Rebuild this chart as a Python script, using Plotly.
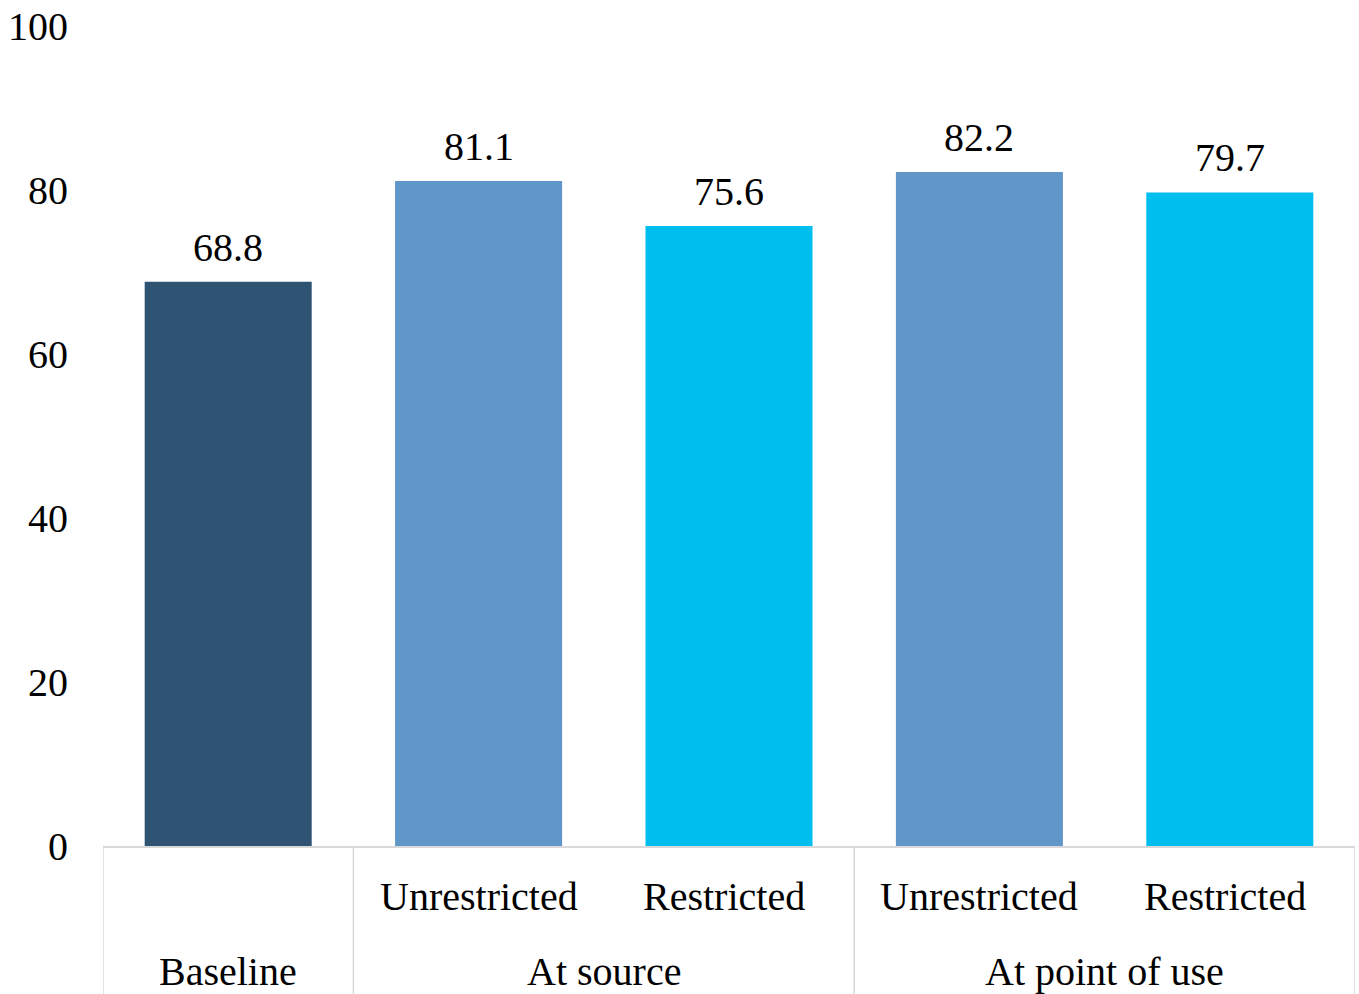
import plotly.graph_objects as go

# Data
categories = ["Baseline", "At source|Unrestricted", "At source|Restricted",
              "At point of use|Unrestricted", "At point of use|Restricted"]
values = [68.8, 81.1, 75.6, 82.2, 79.7]
sub_labels = ["", "Unrestricted", "Restricted", "Unrestricted", "Restricted"]
group_labels = ["Baseline", "At source", "At point of use"]
group_spans = [(0, 0), (1, 2), (3, 4)]
y_ticks = [0, 20, 40, 60, 80, 100]

colors = ["#2F5373", "#6196C8", "#00BEEE", "#6196C8", "#00BEEE"]
FONT = "Liberation Serif, Times New Roman, serif"
FS = 40

fig = go.Figure(go.Bar(
    x=categories, y=values,
    marker=dict(color=colors, line=dict(width=0)),
    width=0.667, hoverinfo="skip",
))

# value labels above bars
for c, v in zip(categories, values):
    fig.add_annotation(x=c, y=v, text=f"{v:.1f}", showarrow=False,
                       xref="x", yref="y", yanchor="bottom", yshift=10,
                       font=dict(family=FONT, size=FS, color="black"))

# first-row category labels
for c, s in zip(categories, sub_labels):
    if s:
        fig.add_annotation(x=c, y=-0.062, text=s, showarrow=False,
                           xref="x", yref="paper", yanchor="middle",
                           xshift=-5 if s == "Restricted" else 0,
                           font=dict(family=FONT, size=FS, color="black"))

# group labels and dividers
for g, (a, b) in zip(group_labels, group_spans):
    fig.add_annotation(x=(a + b) / 2, y=-0.153, text=g, showarrow=False,
                       xref="x", yref="paper", yanchor="middle",
                       font=dict(family=FONT, size=FS, color="black"))
for xpos in [-0.5, 0.5, 2.5, 4.5]:
    fig.add_shape(type="line", x0=xpos, x1=xpos, y0=0, y1=-0.2,
                  xref="x", yref="paper",
                  line=dict(color="#D9D9D9", width=1.5))

fig.update_layout(
    width=1359, height=994,
    margin=dict(l=103, r=4, t=24, b=148),
    paper_bgcolor="white", plot_bgcolor="white",
    showlegend=False,
    font=dict(family=FONT, size=FS, color="black"),
)
fig.update_xaxes(showticklabels=False, showgrid=False, zeroline=False,
                 showline=True, linecolor="#D9D9D9", linewidth=1.5,
                 range=[-0.5, 4.5], fixedrange=True)
fig.update_yaxes(range=[0, 100], tickvals=y_ticks, showgrid=False,
                 zeroline=False, showline=False, ticks="",
                 ticklabelstandoff=34, fixedrange=True,
                 tickfont=dict(family=FONT, size=FS, color="black"))

fig.write_html("out.html")
